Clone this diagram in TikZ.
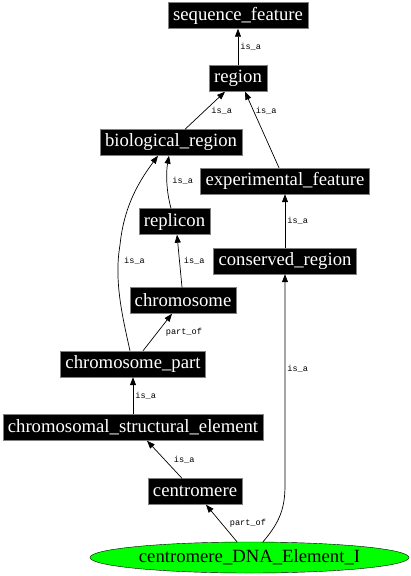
\documentclass[tikz,border=0pt]{standalone}
\usepackage{fontspec}
\setmainfont{Liberation Serif}
\newfontfamily\termfont{Liberation Serif}
\newfontfamily\lblfont{Liberation Mono}
\usetikzlibrary{shapes.geometric, arrows.meta, positioning}
\tikzset{
    term/.style={rectangle, draw=gray, fill=black, text=white, inner xsep=5pt, inner ysep=0pt, minimum height=26pt, font=\termfont\fontsize{18.7}{20}\selectfont},
    instance/.style={ellipse, draw, fill=green, inner sep=0pt, minimum width=319pt, minimum height=31pt, font=\termfont\fontsize{18.7}{20}\selectfont},
    arrow/.style={-{Triangle[length=8pt, width=6pt]}, line width=0.7pt},
    lbl/.style={font=\lblfont\fontsize{8.6}{9}\selectfont, inner sep=2pt},
}
\begin{document}
\begin{tikzpicture}[x=1pt, y=-1pt]
    \useasboundingbox (0,0) rectangle (411,576);

    % Terms
    \node[term] (seqfeat) at (238,15.5) {sequence\_feature};
    \node[term] (region) at (238,78.5) {region};
    \node[term] (bioreg) at (171,142.5) {biological\_region};
    \node[term] (expfeat) at (285,181) {experimental\_feature};
    \node[term] (replicon) at (174.5,221.5) {replicon};
    \node[term] (conserved) at (285,261) {conserved\_region};
    \node[term] (chromosome) at (183,300.5) {chromosome};
    \node[term] (chrpart) at (133,364) {chromosome\_part};
    \node[term] (cse) at (133,427.5) {chromosomal\_structural\_element};
    \node[term] (centromere) at (195,491.5) {centromere};
    \node[instance] (cde) at (249.5,557.5) {centromere\_DNA\_Element\_I};

    % Arrows
    \draw[arrow] (region) -- (seqfeat) node[lbl, midway, right] {is\_a};
    \draw[arrow] ([xshift=14pt]bioreg.north) -- ([xshift=-13pt]region.south) node[lbl, pos=0.5, right=4pt] {is\_a};
    \draw[arrow] ([xshift=-6pt]expfeat.north) -- ([xshift=7pt]region.south) node[lbl, pos=0.75, right] {is\_a};
    \draw[arrow] ([xshift=-3.5pt]replicon.north) .. controls (166,190) and (166,172) .. ([xshift=-2pt]bioreg.south) node[lbl, pos=0.5, right=3pt] {is\_a};
    \draw[arrow] ([xshift=-3pt]chrpart.north) .. controls (122,315) and (114,280) .. (120,245) .. controls (124,205) and (140,180) .. ([xshift=-13pt]bioreg.south);
    \node[lbl, anchor=west] (chrlbl) at (122,261) {is\_a};
    \draw[arrow] ([xshift=-1pt]chromosome.north) -- ([xshift=2.5pt]replicon.south) node[lbl, midway, right=2pt] {is\_a};
    \draw[arrow] ([xshift=10pt]chrpart.north) -- ([xshift=-11pt]chromosome.south) node[lbl, midway, right=6pt] {part\_of};
    \draw[arrow] (cse) -- (chrpart) node[lbl, midway, right] {is\_a};
    \draw[arrow] ([xshift=-13pt]centromere.north) -- ([xshift=14pt]cse.south) node[lbl, midway, right=7pt] {is\_a};
    \draw[arrow] ([xshift=-12.5pt]cde.north) -- ([xshift=11pt]centromere.south) node[lbl, midway, right=6pt] {part\_of};
    \draw[arrow] ([xshift=13.5pt]cde.north) .. controls (280,522) and (285,508) .. (285,485) -- (conserved.south) node[lbl, pos=0.55, right] {is\_a};
    \draw[arrow] (conserved) -- (expfeat) node[lbl, midway, right] {is\_a};

\end{tikzpicture}
\end{document}
